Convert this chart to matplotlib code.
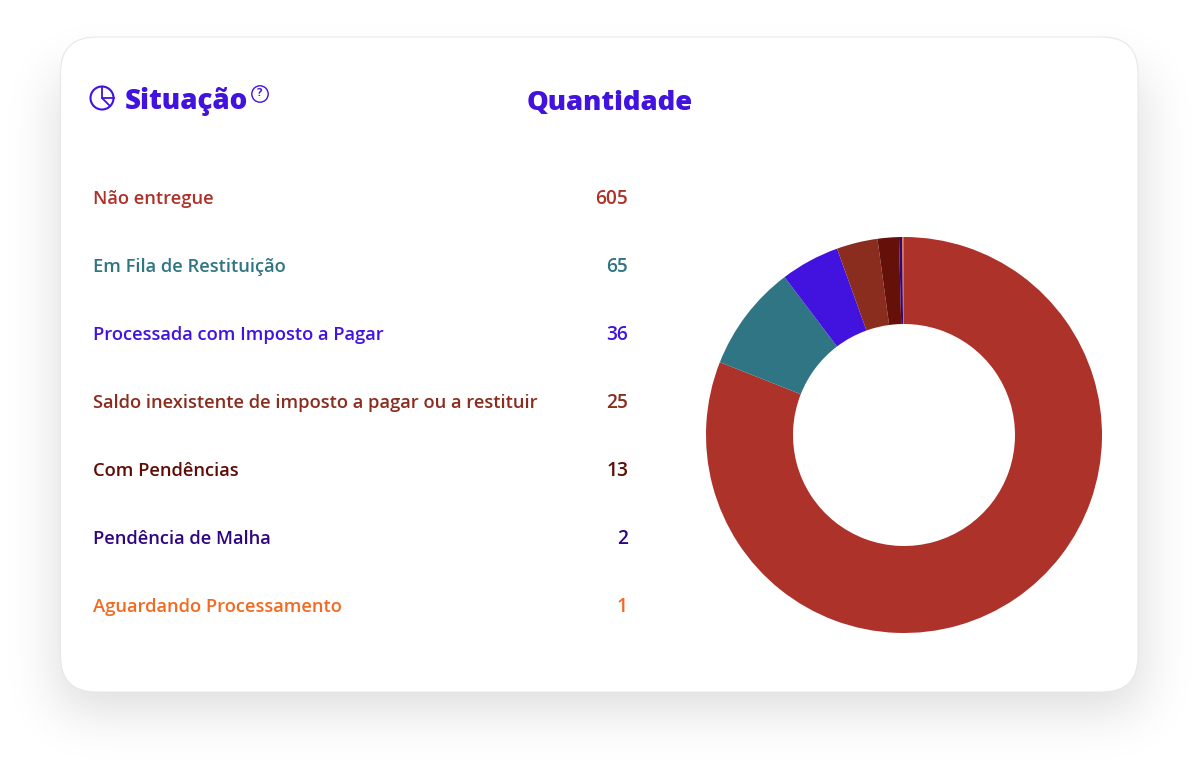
import math
import numpy as np
import matplotlib
matplotlib.use("Agg")
import matplotlib.pyplot as plt
from matplotlib.patches import FancyBboxPatch, Circle

plt.rcParams['font.family'] = ['Open Sans', 'DejaVu Sans']

# Dados
situacoes = ["Não entregue", "Em Fila de Restituição", "Processada com Imposto a Pagar",
             "Saldo inexistente de imposto a pagar ou a restituir", "Com Pendências",
             "Pendência de Malha", "Aguardando Processamento"]
quantidades = [605, 65, 36, 25, 13, 2, 1]
cores_texto = ["#ad322a", "#307583", "#4212df", "#8a2d1f", "#5e0c05", "#30067f", "#f26a21"]
cores_fatia = ["#ad322a", "#307583", "#4212df", "#8a2d1f", "#65110a", "#30067f", "#f26a21"]
titulo_situacao = "Situação"
titulo_quantidade = "Quantidade"
azul = "#4212df"

fig = plt.figure(figsize=(12, 7.8), dpi=100)

# fundo em coordenadas de pixel
bg = fig.add_axes([0, 0, 1, 1])
bg.set_xlim(0, 1200)
bg.set_ylim(780, 0)
bg.axis("off")

# sombra do cartao (retangulo desfocado)
erf = np.vectorize(math.erf)
def borda(v, a, b, s):
    return 0.5 * (erf((v - a) / (s * 1.414)) - erf((v - b) / (s * 1.414)))

xs = np.arange(1200) + 0.5
ys = np.arange(780) + 0.5
sombra = 0.15 * np.outer(borda(ys, 75, 708, 27), borda(xs, 60, 1140, 27))
rgba = np.zeros((780, 1200, 4))
rgba[..., 3] = sombra
bg.imshow(rgba, extent=(0, 1200, 780, 0), aspect="auto", interpolation="nearest", zorder=0)

# cartao
card = FancyBboxPatch((60.5, 37), 1077.5, 655, boxstyle="round,pad=0,rounding_size=36",
                      fc="white", ec="#e8e8e8", lw=0.8, zorder=1)
bg.add_patch(card)

# icone de pizza
bg.add_patch(Circle((102, 98), 11.5, fc="none", ec=azul, lw=1.5, zorder=2))
bg.plot([102, 102, 113.5], [86.5, 98, 98], color=azul, lw=1.3, zorder=2)
bg.plot([102, 110], [98, 106], color=azul, lw=1.3, zorder=2)

# titulos
bg.text(125, 102, titulo_situacao, color=azul, fontsize=20, fontweight=800, va="center", ha="left", zorder=2)
bg.text(610, 103, titulo_quantidade, color=azul, fontsize=19.7, fontweight=800, va="center", ha="center", zorder=2)

# icone de ajuda
bg.add_patch(Circle((260, 94), 8.2, fc="none", ec=azul, lw=1.0, zorder=2))
bg.text(260, 94, "?", color=azul, fontsize=8, fontweight="bold", ha="center", va="center", zorder=2)

# lista
for i, (nome, qtd, cor) in enumerate(zip(situacoes, quantidades, cores_texto)):
    y = 198.5 + i * 68
    bg.text(93, y, nome, color=cor, fontsize=13.25, fontweight=600, va="center", ha="left", zorder=2)
    bg.text(628, y, str(qtd), color=cor, fontsize=13.8, fontweight=600, va="center", ha="right", zorder=2)

# donut
raio = 198
ax = fig.add_axes([(904 - raio) / 1200, 1 - (435 + raio) / 780, 2 * raio / 1200, 2 * raio / 780])
ax.pie(quantidades, colors=cores_fatia, startangle=90, counterclock=False, radius=1,
       wedgeprops={"width": 87 / raio, "linewidth": 0})
ax.set_xlim(-1, 1)
ax.set_ylim(-1, 1)

fig.savefig("out.png", dpi=100)
